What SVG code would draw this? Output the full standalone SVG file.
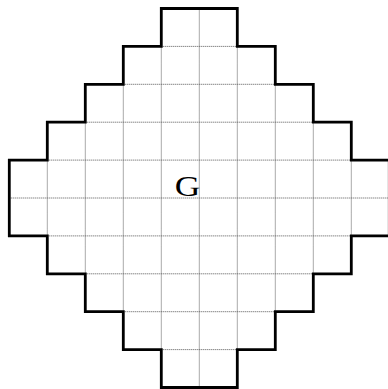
<svg xmlns="http://www.w3.org/2000/svg" width="388" height="389" viewBox="0 0 388 389">
<style>
.grid{stroke:#555;stroke-width:1;stroke-dasharray:1 1;fill:none}
.outline{stroke:#000;stroke-width:2.8;fill:none;stroke-linejoin:miter}
.lbl{font-family:"Liberation Serif","Times New Roman",serif;font-size:30px;fill:#000}
</style>
<defs>
<clipPath id="shape">
<polygon points="161.3,8.5 237.3,8.5 237.3,46.4 275.3,46.4 275.3,84.3 313.3,84.3 313.3,122.2 351.3,122.2 351.3,160.1 389.3,160.1 389.3,235.9 351.3,235.9 351.3,273.8 313.3,273.8 313.3,311.7 275.3,311.7 275.3,349.6 237.3,349.6 237.3,387.5 161.3,387.5 161.3,349.6 123.3,349.6 123.3,311.7 85.3,311.7 85.3,273.8 47.3,273.8 47.3,235.9 9.3,235.9 9.3,160.1 47.3,160.1 47.3,122.2 85.3,122.2 85.3,84.3 123.3,84.3 123.3,46.4 161.3,46.4"/>
</clipPath>
</defs>
<rect width="388" height="389" fill="#fff"/>
<g id="grid" class="grid" clip-path="url(#shape)">
<path d="M47.3,8.5V387.5M85.3,8.5V387.5M123.3,8.5V387.5M161.3,8.5V387.5M199.3,8.5V387.5M237.3,8.5V387.5M275.3,8.5V387.5M313.3,8.5V387.5M351.3,8.5V387.5"/>
<path d="M9.3,46.4H389.3M9.3,84.3H389.3M9.3,122.2H389.3M9.3,160.1H389.3M9.3,198H389.3M9.3,235.9H389.3M9.3,273.8H389.3M9.3,311.7H389.3M9.3,349.6H389.3"/>
</g>
<g id="region">
<polygon class="outline" points="161.3,8.5 237.3,8.5 237.3,46.4 275.3,46.4 275.3,84.3 313.3,84.3 313.3,122.2 351.3,122.2 351.3,160.1 389.3,160.1 389.3,235.9 351.3,235.9 351.3,273.8 313.3,273.8 313.3,311.7 275.3,311.7 275.3,349.6 237.3,349.6 237.3,387.5 161.3,387.5 161.3,349.6 123.3,349.6 123.3,311.7 85.3,311.7 85.3,273.8 47.3,273.8 47.3,235.9 9.3,235.9 9.3,160.1 47.3,160.1 47.3,122.2 85.3,122.2 85.3,84.3 123.3,84.3 123.3,46.4 161.3,46.4"/>
<text class="lbl" x="174.8" y="196.3" textLength="25.5" lengthAdjust="spacingAndGlyphs">G</text>
</g>
</svg>
